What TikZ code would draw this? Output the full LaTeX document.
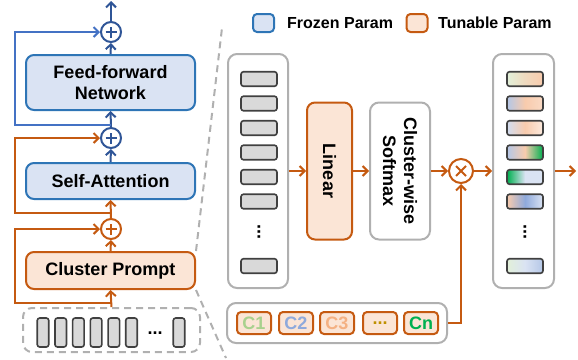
\documentclass[tikz,border=0pt]{standalone}
\usepackage{fontspec}
\setmainfont{Liberation Sans}
\usetikzlibrary{arrows.meta}
\definecolor{frozenfill}{HTML}{DAE3F3}
\definecolor{frozenline}{HTML}{2E75B6}
\definecolor{flowblue}{HTML}{2F5597}
\definecolor{skipblue}{HTML}{4472C4}
\definecolor{tunefill}{HTML}{FBE5D6}
\definecolor{tuneline}{HTML}{C55A11}
\definecolor{panelgrey}{HTML}{B0B0B0}
\definecolor{tokfill}{HTML}{D9D9D9}
\definecolor{tokline}{HTML}{404040}
\definecolor{cgreen}{HTML}{A9D18E}
\definecolor{cblue}{HTML}{8FAADC}
\definecolor{corange}{HTML}{F4B183}
\definecolor{cgold}{HTML}{BF9000}
\definecolor{cdark}{HTML}{00B050}
\definecolor{lgreen}{HTML}{E2F0D9}
\definecolor{lorange}{HTML}{F8CBAD}
\definecolor{lblue}{HTML}{B4C7E7}
\definecolor{pblue}{HTML}{DAE3F3}
\definecolor{mblue}{HTML}{8FAADC}

\begin{document}
\begin{tikzpicture}[x=1pt, y=-1pt,
    font=\fontsize{18}{21}\selectfont\bfseries,
    frozen/.style={draw=frozenline, fill=frozenfill, line width=2pt, rounded corners=8pt, align=center, inner sep=0pt},
    tunable/.style={draw=tuneline, fill=tunefill, line width=2pt, rounded corners=8pt, align=center, inner sep=0pt},
    panel/.style={draw=panelgrey, line width=2pt, rounded corners=9pt, inner sep=0pt},
    token/.style={draw=tokline, fill=tokfill, line width=1.6pt, rounded corners=2.5pt, inner sep=0pt},
    addop/.style={circle, draw=#1, fill=white, line width=2pt, minimum size=20pt, inner sep=0pt,
        path picture={\draw[#1, line width=2pt]
            ([xshift=-5.5pt]path picture bounding box.center) -- ([xshift=5.5pt]path picture bounding box.center)
            ([yshift=-5.5pt]path picture bounding box.center) -- ([yshift=5.5pt]path picture bounding box.center);}},
    mulop/.style={circle, draw=#1, fill=white, line width=2pt, minimum size=24pt, inner sep=0pt,
        path picture={\draw[#1, line width=2pt]
            ([shift={(-5pt,-5pt)}]path picture bounding box.center) -- ([shift={(5pt,5pt)}]path picture bounding box.center)
            ([shift={(-5pt,5pt)}]path picture bounding box.center) -- ([shift={(5pt,-5pt)}]path picture bounding box.center);}},
    flow/.style={line width=2pt, -{Straight Barb[length=5pt, width=10pt, line width=2pt]}},
    zoomline/.style={draw=panelgrey, line width=2pt, dash pattern=on 7pt off 5pt}
]
    % transformer block
    \node[frozen, minimum width=169pt, minimum height=55pt] (ffn) at (110.5, 82.5) {Feed-forward\\Network};
    \node[frozen, minimum width=169pt, minimum height=36pt] (sa) at (110.5, 181) {Self-Attention};
    \node[tunable, minimum width=169pt, minimum height=37pt] (cp) at (110.5, 270.5) {Cluster Prompt};
    \node[addop=flowblue] (p1) at (111, 32) {};
    \node[addop=flowblue] (p2) at (111, 138) {};
    \node[addop=tuneline] (p3) at (111, 229) {};
    \node[panel, dash pattern=on 7pt off 5pt, minimum width=177pt, minimum height=44pt] (inp) at (111.5, 330) {};
    \foreach \x [count=\i] in {43, 60.7, 78.4, 96.1, 113.8, 131.5}
        \node[token, minimum width=11.5pt, minimum height=29pt] (tok\i) at (\x, 332.5) {};
    \node[inner sep=0pt] (tokdots) at (155, 333) {...};
    \node[token, minimum width=11.5pt, minimum height=29pt] (toklast) at (179, 332.5) {};

    \coordinate (b1) at (111, 125);
    \coordinate (b2) at (111, 213);
    \coordinate (b3) at (111, 303);
    \coordinate (topend) at (111, 1);

    \draw[flow, tuneline] (inp.north) -- (cp.south);
    \draw[flow, tuneline] (cp.north) -- (p3.south);
    \draw[flow, tuneline] (p3.north) -- (sa.south);
    \draw[flow, flowblue] (sa.north) -- (p2.south);
    \draw[flow, flowblue] (p2.north) -- (ffn.south);
    \draw[flow, flowblue] (ffn.north) -- (p1.south);
    \draw[flow, flowblue] (p1.north) -- (topend);
    \draw[flow, tuneline] (b3) -- ++(-96, 0) |- (p3);
    \draw[flow, tuneline] (b2) -- ++(-96, 0) |- (p2);
    \draw[flow, skipblue] (b1) -- ++(-96, 0) |- (p1);

    % zoom lines
    \coordinate (zt) at (222, 28);
    \coordinate (zb) at (226, 358);
    \draw[zoomline] (cp.north east) -- (zt);
    \draw[zoomline] (cp.south east) -- (zb);

    % legend
    \node[frozen, rounded corners=4pt, minimum width=21pt, minimum height=18pt] (lgf) at (263.5, 23) {};
    \node[anchor=west, inner sep=0pt, font=\fontsize{16}{18}\selectfont\bfseries] (lgftxt) at (287, 23) {Frozen Param};
    \node[tunable, rounded corners=4pt, minimum width=21pt, minimum height=18pt] (lgt) at (417, 23) {};
    \node[anchor=west, inner sep=0pt, font=\fontsize{16}{18}\selectfont\bfseries] (lgttxt) at (438, 23) {Tunable Param};

    % cluster prompt detail
    \node[panel, minimum width=60pt, minimum height=234pt] (colL) at (258, 171) {};
    \foreach \y [count=\i] in {79, 103.5, 128, 152.5, 177, 201.5, 266}
        \node[token, minimum width=36pt, minimum height=14.5pt] (in\i) at (259, \y) {};
    \node[rotate=-90] (indots) at (259, 232) {...};

    \node[tunable, minimum width=45pt, minimum height=137pt] (lin) at (329.5, 171) {};
    \node[rotate=-90] (lintxt) at (lin) {Linear};
    \node[panel, minimum width=60pt, minimum height=137pt] (sm) at (400, 171) {};
    \node[rotate=-90, align=center] (smtxt) at (sm) {Cluster-wise\\Softmax};
    \node[mulop=tuneline] (mul) at (461, 171) {};

    \node[panel, minimum width=61pt, minimum height=234pt] (colR) at (523.5, 171) {};
    \foreach \y/\lc/\mc/\rc [count=\i] in {79/lgreen/lorange!60!lgreen/lorange, 103.5/lblue/lorange/lorange!70,
            128/lblue!60/lorange/lorange!40, 152.5/lblue/lorange/cdark, 177/cdark/pblue/pblue,
            201.5/lorange/mblue/pblue, 266/lgreen/pblue/lblue}
        \node[token, minimum width=36pt, minimum height=14.5pt, left color=\lc, right color=\rc, middle color=\mc] (out\i) at (525, \y) {};
    \node[rotate=-90] (outdots) at (525, 232) {...};

    \node[panel, minimum width=220pt, minimum height=40pt] (clus) at (337, 323) {};
    \foreach \x/\t/\c [count=\i] in {254/C1/cgreen, 296/C2/cblue, 337/C3/corange, 380/{...}/cgold, 421/Cn/cdark}
        \node[tunable, rounded corners=4pt, minimum width=34pt, minimum height=22pt, text=\c] (c\i) at (\x, 323) {\t};

    \coordinate (outend) at (576, 171);
    \draw[flow, tuneline] (colL.east) -- (lin.west);
    \draw[flow, tuneline] (lin.east) -- (sm.west);
    \draw[flow, tuneline] (sm.east) -- (mul.west);
    \draw[flow, tuneline] (mul.east) -- (colR.west);
    \draw[flow, tuneline] (colR.east) -- (outend);
    \draw[flow, tuneline] (clus.east) -| (mul.south);

    \useasboundingbox (0, 0) rectangle (578, 356);
\end{tikzpicture}
\end{document}
